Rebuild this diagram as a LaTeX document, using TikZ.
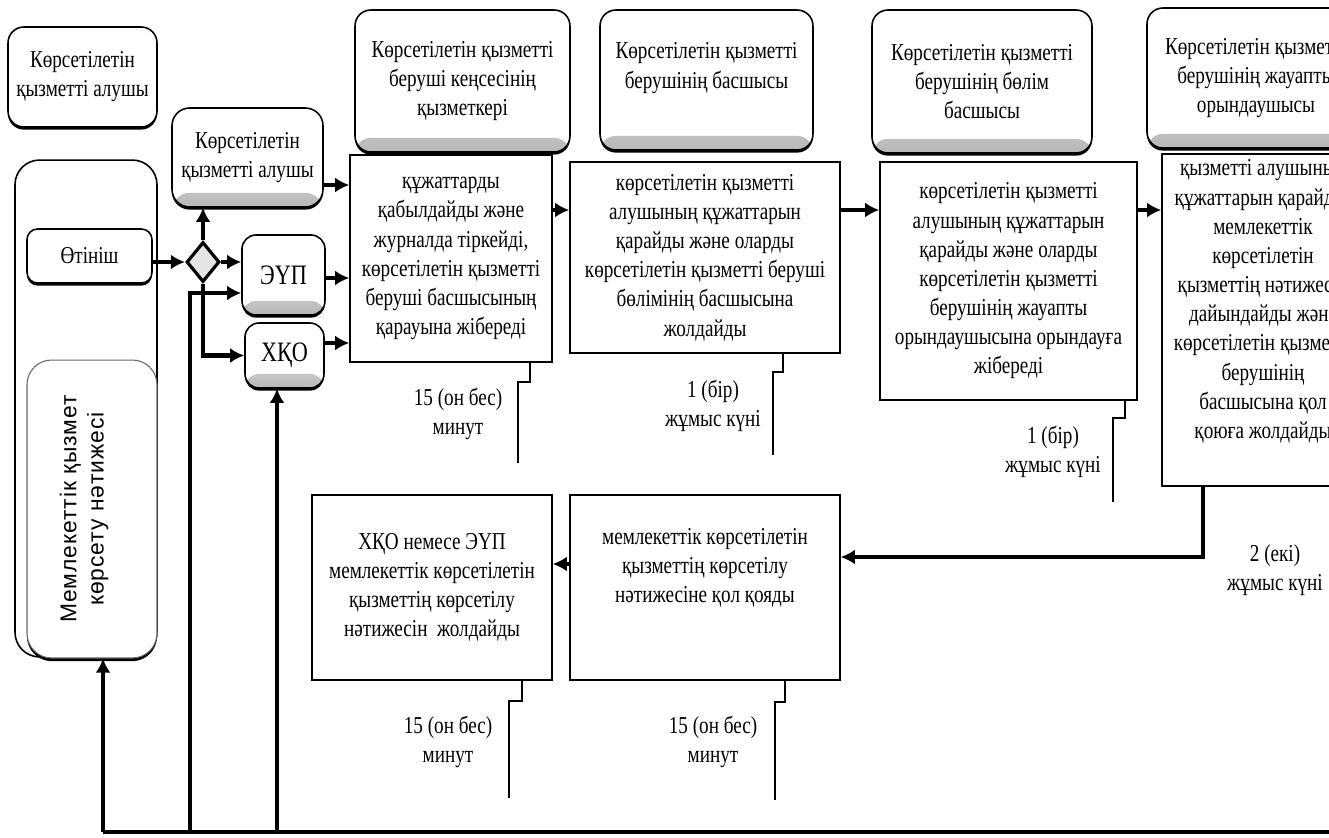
\documentclass[tikz,border=0pt]{standalone}
\usepackage{fontspec}
\usepackage{graphicx}
\setmainfont{Liberation Serif}[FakeStretch=0.79]
\newfontfamily\lanefont{Liberation Sans}[LetterSpace=4]
\usetikzlibrary{shapes.geometric,arrows.meta,shadows}

\begin{document}
\begin{tikzpicture}[x=0.02cm,y=-0.02cm,
		font=\fontsize{13.8}{16.6}\selectfont,
		hdr/.style={draw, line width=0.9pt, rounded corners=9pt, fill=white, align=center,
			drop shadow={shadow xshift=0pt, shadow yshift=-1.5pt, opacity=1, fill=black}},
		band/.style={path picture={\shade[top color=white, bottom color=black!28]
				([yshift=8pt]path picture bounding box.south west) rectangle (path picture bounding box.south east);}},
		proc/.style={draw, line width=0.9pt, fill=white, align=center},
		arr/.style={line width=2.6pt, -{Latex[length=8pt,width=8.5pt]}},
		tick/.style={line width=0.8pt},
		note/.style={align=center}
	]
	\useasboundingbox (0,0) rectangle (1329,838);
	\clip (0,0) rectangle (1329,838);

	% left lane
	\node[hdr, minimum width=2.98cm, minimum height=2cm] (recv) at (82.5,77) {Көрсетілетін\\қызметті алушы};
	\node[draw, line width=0.9pt, rounded corners=14pt,
		minimum width=2.84cm, minimum height=9.94cm] (lane) at (86,408.5) {};
	\node[hdr, rounded corners=6pt, minimum width=2.5cm, minimum height=1.08cm] (app) at (89.5,256) {Өтініш};
	\node[draw=black!60, line width=0.6pt, rounded corners=14pt, fill=white,
		drop shadow={shadow xshift=0pt, shadow yshift=-1.8pt, opacity=1, fill=black},
		minimum width=2.6cm, minimum height=5.96cm] (result) at (92,509)
		{\rotatebox{90}{\lanefont\fontsize{13}{15.5}\selectfont
			\begin{tabular}{@{}c@{}}Мемлекеттік қызмет\\көрсету нәтижесі\end{tabular}}\hspace*{0.3cm}};

	% receiving side
	\node[hdr, band, rounded corners=10pt, minimum width=3.02cm, minimum height=1.98cm] (recv2) at (247.5,157.5) {Көрсетілетін\\қызметті алушы};
	\node[diamond, draw, line width=1.8pt, fill=black!10, minimum width=0.66cm,
		minimum height=0.8cm, inner sep=0pt] (gate) at (203,262) {};
	\node[hdr, band, rounded corners=8pt, minimum width=1.66cm, minimum height=1.6cm,
		font=\fontsize{16}{18}\selectfont] (eup) at (283.5,275) {ЭҮП};
	\node[hdr, band, rounded corners=8pt, minimum width=1.58cm, minimum height=1.3cm,
		font=\fontsize{16}{18}\selectfont] (hqo) at (284.5,355.5) {ХҚО};

	% lane headers
	\node[hdr, band, minimum width=4.3cm, minimum height=2.84cm] (clerk) at (462.5,81) {Көрсетілетін қызметті\\беруші кеңсесінің\\қызметкері};
	\node[hdr, band, minimum width=4.26cm, minimum height=2.8cm] (chief) at (706.5,80) {Көрсетілетін қызметті\\берушінің басшысы\\\mbox{}};
	\node[hdr, band, minimum width=4.4cm, minimum height=2.86cm] (dept) at (982,81.5) {Көрсетілетін қызметті\\берушінің бөлім\\басшысы};
	\node[hdr, band, minimum width=4.36cm, minimum height=2.8cm] (exec) at (1256,78) {Көрсетілетін қызметті\\берушінің жауапты\\орындаушысы};

	% steps
	\node[proc, minimum width=4.04cm, minimum height=4.14cm] (s1) at (451,258.5) {құжаттарды\\қабылдайды және\\журналда тіркейді,\\көрсетілетін қызметті\\беруші басшысының\\қарауына жібереді};
	\node[proc, minimum width=5.4cm, minimum height=3.82cm] (s2) at (705,257.5) {көрсетілетін қызметті\\алушының құжаттарын\\қарайды және оларды\\көрсетілетін қызметті беруші\\бөлімінің басшысына\\жолдайды};
	\node[proc, minimum width=5.14cm, minimum height=4.76cm] (s3) at (1008.5,281) {көрсетілетін қызметті\\алушының құжаттарын\\қарайды және оларды\\көрсетілетін қызметті\\берушінің жауапты\\орындаушысына орындауға\\жібереді};
	\node[proc, minimum width=4.04cm, minimum height=6.32cm] (s4) at (1263,320) {қызметті алушының\\құжаттарын қарайды,\\мемлекеттік\\көрсетілетін\\қызметтің нәтижесін\\дайындайды және\\көрсетілетін қызметті\\берушінің\\басшысына қол\\қоюға жолдайды\\[0.25cm]};
	\node[proc, minimum width=5.4cm, minimum height=3.7cm] (s5) at (705,587.5) {мемлекеттік көрсетілетін\\қызметтің көрсетілу\\нәтижесіне қол қояды\\[0.3cm]};
	\node[proc, minimum width=4.8cm, minimum height=3.7cm] (s6) at (432,587.5) {ХҚО немесе ЭҮП\\мемлекеттік көрсетілетін\\қызметтің көрсетілу\\нәтижесін\ \ жолдайды};

	% durations
	\draw[tick] (530,362) |- (518,382) -- (518,463);
	\node[note] (d1) at (458,414) {15 (он бес)\\минут};
	\draw[tick] (783,353) |- (773,372) -- (773,455);
	\node[note] (d2) at (713,406) {1 (бір)\\жұмыс күні};
	\draw[tick] (1125,400) |- (1113,418) -- (1113,502);
	\node[note] (d3) at (1053,452) {1 (бір)\\жұмыс күні};
	\node[note] (d4) at (1275,570) {2 (екі)\\жұмыс күні};
	\draw[tick] (785,680) |- (775,702) -- (775,800);
	\node[note] (d5) at (713,742) {15 (он бес)\\минут};
	\draw[tick] (522,680) |- (509,701) -- (509,798);
	\node[note] (d6) at (448,742) {15 (он бес)\\минут};

	% rows and columns of the connectors
	\coordinate (rowA) at (0,185);
	\coordinate (rowC) at (0,278);
	\coordinate (rowD) at (0,293);
	\coordinate (rowE) at (0,343);
	\coordinate (rowF) at (0,210);
	\coordinate (rowG) at (0,557);
	\coordinate (rowH) at (0,564);
	\coordinate (colB) at (1203,0);
	\coordinate (loopL) at (103,832);
	\coordinate (loopM) at (190,832);
	\coordinate (loopN) at (277,832);
	\coordinate (loopR) at (1329,832);

	\draw[arr] (app.east |- gate) -- (gate.west);
	\draw[arr] (gate.north) -- (gate.north |- recv2.south);
	\draw[arr] (gate.east) -- (gate.east -| eup.west);
	\draw[arr] (gate.south) |- (hqo.west);
	\draw[arr] (recv2.east |- rowA) -- (s1.west |- rowA);
	\draw[arr] (eup.east |- rowC) -- (s1.west |- rowC);
	\draw[arr] (hqo.east |- rowE) -- (s1.west |- rowE);
	\draw[arr] (s1.east |- rowF) -- (s2.west |- rowF);
	\draw[arr] (s2.east |- rowF) -- (s3.west |- rowF);
	\draw[arr] (s3.east |- rowF) -- (s4.west |- rowF);
	\draw[arr] (colB |- s4.south) -- (colB |- rowG) -- (s5.east |- rowG);
	\draw[arr] (s5.west |- rowH) -- (s6.east |- rowH);

	% return line
	\draw[line width=2.6pt] (loopR) -- (loopL);
	\draw[arr] (loopL) -- (loopL |- result.south);
	\draw[arr, line width=1.8pt] (loopM) |- (eup.west |- rowD);
	\draw[arr] (loopN) -- (loopN |- hqo.south);
\end{tikzpicture}
\end{document}
